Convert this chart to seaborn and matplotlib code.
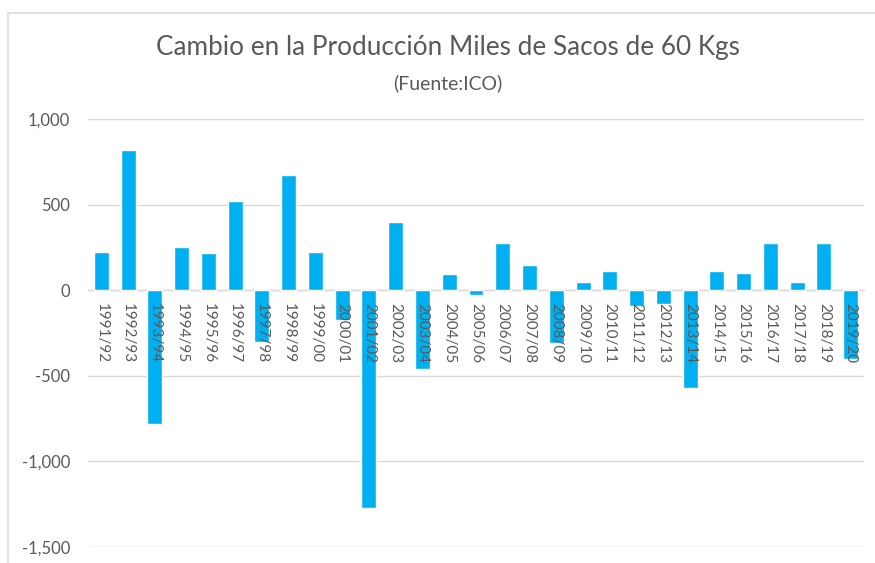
import matplotlib
matplotlib.use("Agg")
import matplotlib.pyplot as plt
from matplotlib.lines import Line2D
from matplotlib.ticker import FuncFormatter
import seaborn as sns
import pandas as pd

# Crop years and yearly change in production (thousand 60 kg bags)
seasons = [
    "1991/92", "1992/93", "1993/94", "1994/95", "1995/96", "1996/97",
    "1997/98", "1998/99", "1999/00", "2000/01", "2001/02", "2002/03",
    "2003/04", "2004/05", "2005/06", "2006/07", "2007/08", "2008/09",
    "2009/10", "2010/11", "2011/12", "2012/13", "2013/14", "2014/15",
    "2015/16", "2016/17", "2017/18", "2018/19", "2019/20",
]
change = [
    225, 820, -780, 250, 215, 520,
    -300, 670, 225, -175, -1270, 400,
    -460, 95, -30, 275, 150, -310,
    45, 110, -90, -80, -570, 115,
    100, 275, 45, 275, -400,
]
y_ticks = [-1500, -1000, -500, 0, 500, 1000]

df = pd.DataFrame({"season": seasons, "change": change})

sns.set_theme(style="white")
plt.rcParams["font.family"] = ["Lato", "DejaVu Sans"]

fig = plt.figure(figsize=(8.75, 5.63), dpi=100)
ax = fig.add_axes([88 / 875, 1 - 547 / 563, (864 - 88) / 875, (547 - 119) / 563])

# Horizontal gridlines sit behind the bars
for t in y_ticks:
    ax.axhline(t, color="#d9d9d9", linewidth=1.0, zorder=0)

sns.barplot(data=df, x="season", y="change", color="#00B0F0",
            width=0.56, saturation=1, ax=ax, zorder=1)

ax.set_ylim(-1500, 1000)
ax.set_yticks(y_ticks)
ax.yaxis.set_major_formatter(FuncFormatter(lambda v, _: f"{int(v):,}"))
ax.grid(False)

for side in ["top", "right", "left"]:
    ax.spines[side].set_visible(False)
ax.spines["bottom"].set_position(("data", 0))
ax.spines["bottom"].set_color("#d9d9d9")
ax.spines["bottom"].set_linewidth(1.0)
ax.spines["bottom"].set_zorder(0.5)

# Category labels are drawn over the bars
ax.xaxis.set_zorder(3)
ax.tick_params(axis="x", length=0, pad=9, labelsize=11, labelcolor="#595959")
ax.tick_params(axis="y", length=0, pad=13, labelsize=12, labelcolor="#595959")
for lbl in ax.get_xticklabels():
    lbl.set_rotation(270)
    lbl.set_va("top")
    lbl.set_ha("center")

ax.set_xlabel("")
ax.set_ylabel("")

fig.text(448 / 875, 1 - 48 / 563, "Cambio en la Producción Miles de Sacos de 60 Kgs",
         ha="center", va="center", fontsize=18.8, color="#595959")
fig.text(448 / 875, 1 - 83 / 563, "(Fuente:ICO)",
         ha="center", va="center", fontsize=14, color="#595959")

# Chart frame
fig.add_artist(Line2D([8 / 875, 8 / 875], [0, 1 - 13 / 563], color="#d9d9d9", linewidth=1.2))
fig.add_artist(Line2D([8 / 875, 1], [1 - 13 / 563, 1 - 13 / 563], color="#d9d9d9", linewidth=1.2))

fig.savefig("out.png", dpi=100)
